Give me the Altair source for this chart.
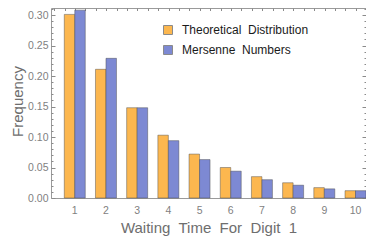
import altair as alt
import pandas as pd

digits = [1, 2, 3, 4, 5, 6, 7, 8, 9, 10]
theoretical = [0.301, 0.211, 0.148, 0.103, 0.072, 0.050, 0.035, 0.025, 0.017, 0.012]
mersenne = [0.308, 0.229, 0.148, 0.094, 0.063, 0.044, 0.030, 0.021, 0.015, 0.012]
series_names = ["Theoretical\u00a0\u00a0Distribution", "Mersenne\u00a0\u00a0Numbers"]
colors = ["#FCB74F", "#7D89D3"]
y_ticks = [round(i * 0.01, 2) for i in range(32)]
y_labels = [0.0, 0.05, 0.10, 0.15, 0.20, 0.25, 0.30]
top_ticks = [k / 3 for k in range(1, 32)]

rows = []
for d, t, m in zip(digits, theoretical, mersenne):
    rows.append({"Digit": d, "Series": series_names[0], "Frequency": t})
    rows.append({"Digit": d, "Series": series_names[1], "Frequency": m})
df = pd.DataFrame(rows)

W, H = 315, 190
ydom = [0, 0.3115]
xqdom = [0.2305, 10.330]
FONT = "Liberation Sans"
TICK = "#8a8a8a"

xscale = alt.Scale(paddingInner=0.327, paddingOuter=0.213, align=1)
xoff = alt.XOffset("Series:N", sort=series_names, scale=alt.Scale(paddingInner=0, paddingOuter=0))

bars = alt.Chart(df).mark_bar(stroke="#4a4a4a", strokeOpacity=0.45, strokeWidth=1).encode(
    x=alt.X("Digit:O", scale=xscale,
            axis=alt.Axis(title="Waiting\u00a0 Time\u00a0 For\u00a0 Digit\u00a0 1", labelAngle=0,
                          ticks=False, domain=False, labelPadding=7, labelFontSize=10.5,
                          labelColor="#7f7f7f", titleFontSize=15, titleColor="#6e6e6e",
                          titleFontWeight="normal", titlePadding=5, labelFont=FONT, titleFont=FONT)),
    xOffset=xoff,
    y=alt.Y("Frequency:Q", scale=alt.Scale(domain=ydom, nice=False, zero=True),
            axis=alt.Axis(values=y_labels, format=".2f", ticks=False, tickSize=0, domain=False,
                          grid=False, labelPadding=3, labelFontSize=10.5, labelColor="#7f7f7f",
                          titleFontSize=15, titleColor="#6e6e6e", titleFontWeight="normal",
                          titleX=-34, titleY=93, titleBaseline="middle",
                          labelFont=FONT, titleFont=FONT)),
    color=alt.Color("Series:N", sort=series_names,
                    scale=alt.Scale(domain=series_names, range=colors),
                    legend=alt.Legend(orient="none", legendX=111, legendY=16, title=None,
                                      symbolType="square", symbolSize=81, labelFontSize=12,
                                      labelFont=FONT, labelColor="#1a1a1a", rowPadding=6,
                                      labelOffset=8, symbolStrokeWidth=1,
                                      symbolStrokeColor="#8a8a8a")),
)

tick_size = {"condition": {"test": "round(datum.value*100) % 5 == 0", "value": 4}, "value": 2}


def tick_layer(orient):
    return alt.Chart(df).mark_point(opacity=0).encode(
        y=alt.Y("Frequency:Q", scale=alt.Scale(domain=ydom, nice=False, zero=True),
                axis=alt.Axis(orient=orient, offset=-W, values=y_ticks, labels=False,
                              domain=False, grid=False, title=None, ticks=True,
                              tickSize=tick_size, tickWidth=1, tickColor=TICK)),
    )


top = alt.Chart(df).mark_point(opacity=0).encode(
    x=alt.X("Digit:Q", scale=alt.Scale(domain=xqdom, nice=False, zero=False),
            axis=alt.Axis(orient="bottom", offset=-H, values=top_ticks, labels=False,
                          domain=False, grid=False, title=None, ticks=True, tickSize=2.5,
                          tickWidth=1, tickColor=TICK)),
)

chart = alt.layer(bars, tick_layer("right"), tick_layer("left"), top).resolve_scale(
    y="independent", x="independent"
).resolve_axis(y="independent", x="independent").properties(
    width=W, height=H,
    autosize=alt.AutoSizeParams(type="none"),
    padding={"left": 43, "top": 0, "right": 0, "bottom": 38},
).configure_view(stroke="#9a9a9a", strokeWidth=1)

chart.save("out.html", embed_options={"renderer": "svg", "actions": False})
